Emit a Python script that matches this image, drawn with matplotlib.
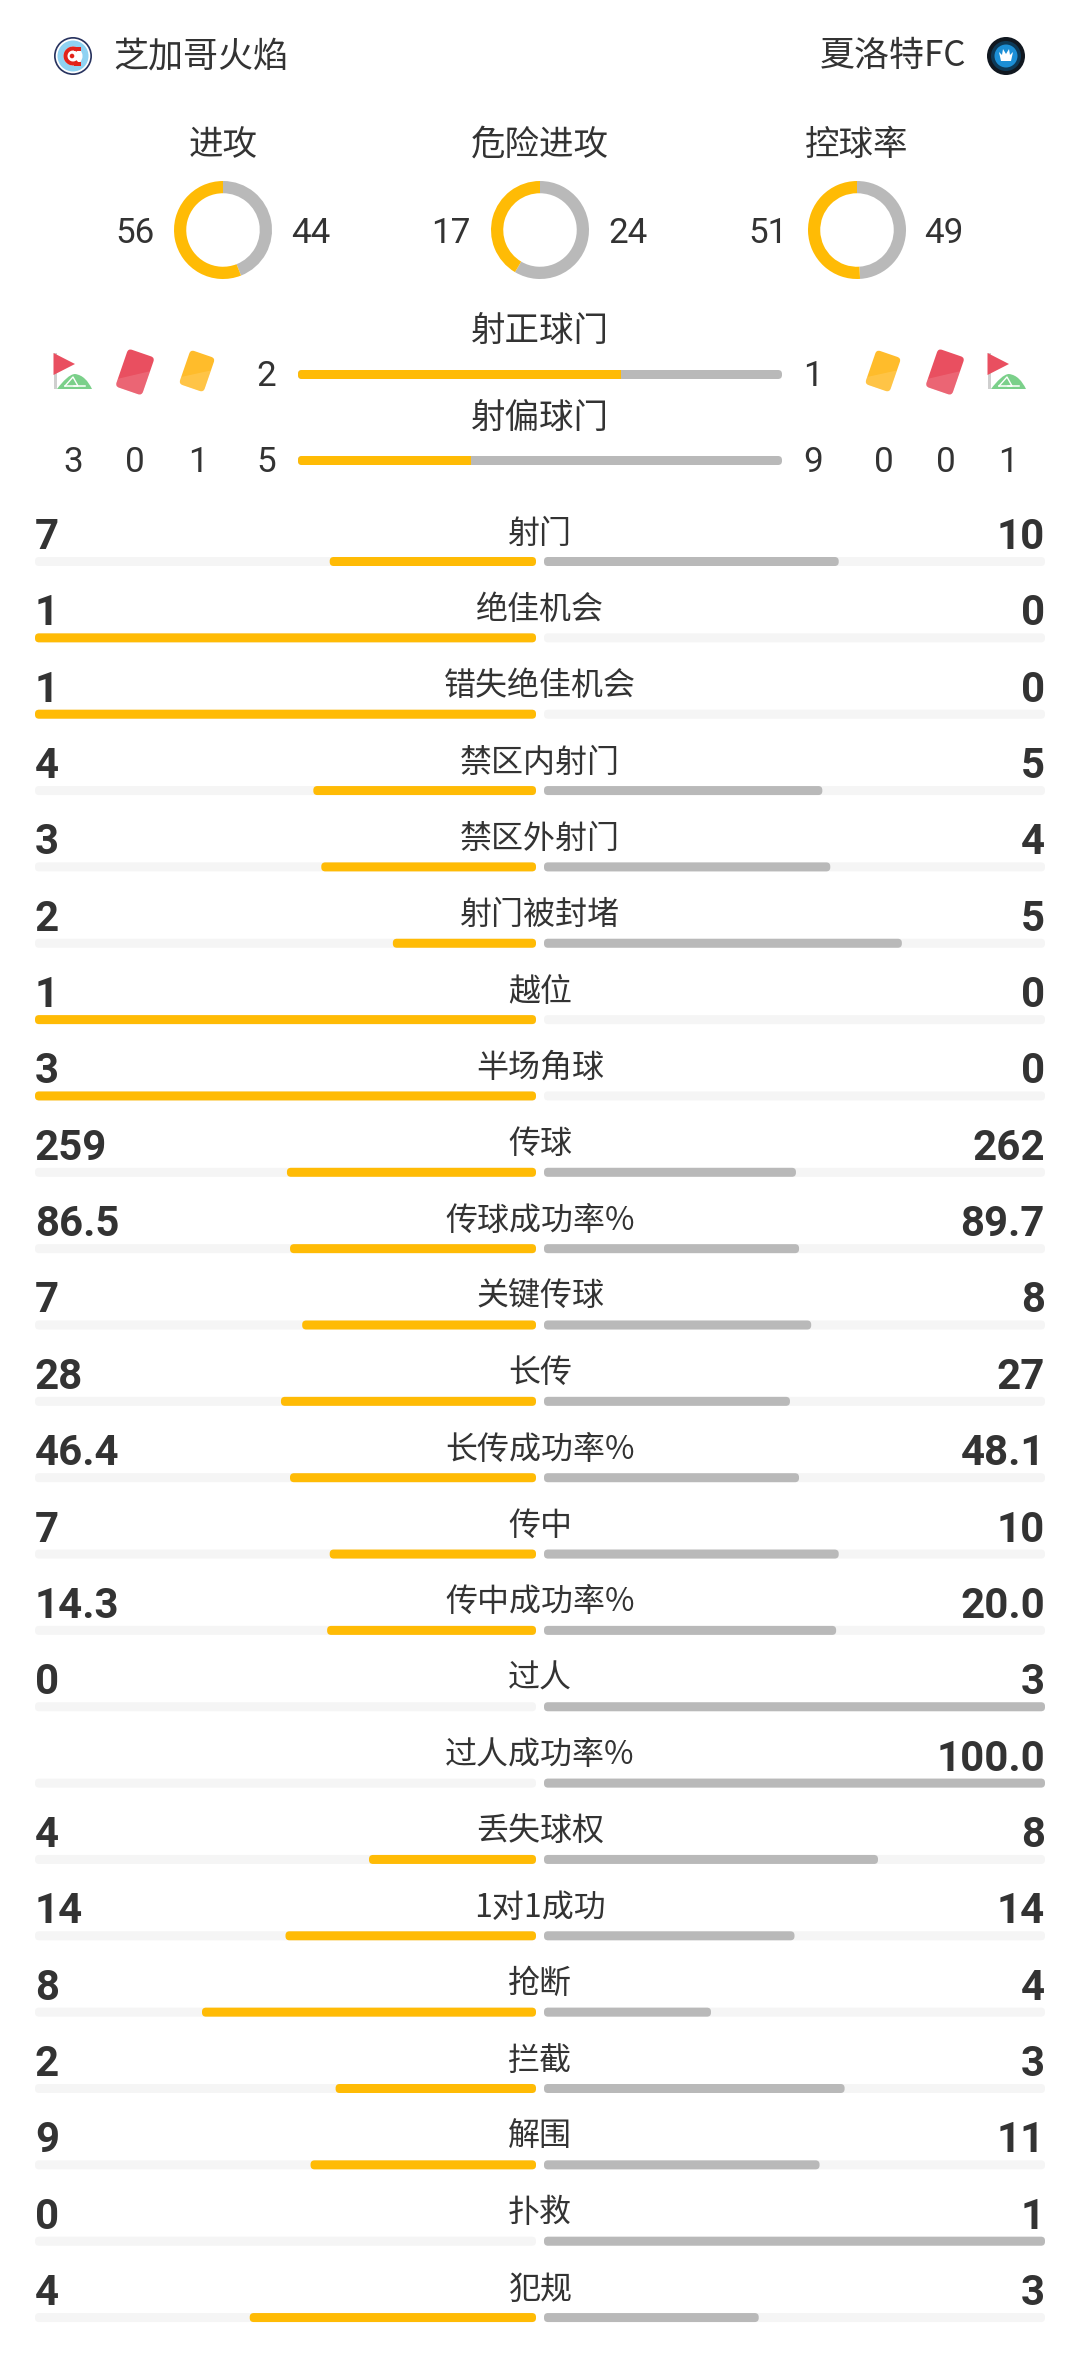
import matplotlib
matplotlib.use('Agg')
import matplotlib.pyplot as plt
from matplotlib.patches import Circle, FancyBboxPatch, PathPatch, Polygon, Rectangle, Wedge
from matplotlib.path import Path
from matplotlib.transforms import Affine2D

plt.rcParams['font.family'] = ['Noto Sans CJK SC', 'DejaVu Sans']

GOLD = '#FFBB05'
GRAY = '#B9B9B9'
TRACK = '#F5F5F5'
INK = '#333333'
RED_CARD = '#E94F60'
YELLOW_CARD = '#FFBC2B'

home_team = '芝加哥火焰'
away_team = '夏洛特FC'

# donuts
donut_titles = ['进攻', '危险进攻', '控球率']
donut_home = [56, 17, 51]
donut_away = [44, 24, 49]

# the two thin bars with card and corner counts
shot_titles = ['射正球门', '射偏球门']
shot_home = [2, 5]
shot_away = [1, 9]
home_corners, home_reds, home_yellows = 3, 0, 1
away_yellows, away_reds, away_corners = 0, 0, 1

# main table, kept as strings because the decimals are shown as they are
stat_names = ['射门', '绝佳机会', '错失绝佳机会', '禁区内射门', '禁区外射门', '射门被封堵', '越位', '半场角球',
              '传球', '传球成功率%', '关键传球', '长传', '长传成功率%', '传中', '传中成功率%', '过人',
              '过人成功率%', '丢失球权', '1对1成功', '抢断', '拦截', '解围', '扑救', '犯规']
stat_home = ['7', '1', '1', '4', '3', '2', '1', '3',
             '259', '86.5', '7', '28', '46.4', '7', '14.3', '0',
             '', '4', '14', '8', '2', '9', '0', '4']
stat_away = ['10', '0', '0', '5', '4', '5', '0', '0',
             '262', '89.7', '8', '27', '48.1', '10', '20.0', '3',
             '100.0', '8', '14', '4', '3', '11', '1', '3']

W, H = 1080, 2379
fig = plt.figure(figsize=(W / 100, H / 100), dpi=100, facecolor='white')
ax = fig.add_axes([0, 0, 1, 1])
ax.set_xlim(0, W)
ax.set_ylim(H, 0)
ax.axis('off')


def px(size):
    # font size in points from a size in pixels
    return size * 72 / 100


def round_bar(x0, x1, y, h, color, r=4, zorder=2):
    patch = FancyBboxPatch((x0, y), x1 - x0, h, boxstyle='round,pad=0,rounding_size=%s' % r,
                           fc=color, ec='none', zorder=zorder)
    ax.add_patch(patch)
    return patch


def cjk(x, y, s, size, ha='center'):
    ax.text(x, y, s, fontsize=px(size), color=INK, ha=ha, va='baseline')


def number(x, y, s, ha='center'):
    ax.text(x, y, str(s), family='Roboto', fontsize=px(35), color=INK, ha=ha, va='baseline')


def card(cx, cy, w, h, color, angle=19):
    tr = Affine2D().rotate_deg(angle).translate(cx, cy) + ax.transData
    base = FancyBboxPatch((-w / 2, -h / 2), w, h, boxstyle='round,pad=0,rounding_size=4',
                          fc=color, ec='none', transform=tr, zorder=3)
    ax.add_patch(base)
    light = Polygon([(-w / 2, h * 0.3), (w / 2, -h * 0.14), (w / 2, h / 2), (-w / 2, h / 2)],
                    fc='white', alpha=0.13, ec='none', transform=tr, zorder=4)
    ax.add_patch(light)
    light.set_clip_path(base)


def corner_flag(x):
    ax.add_patch(Rectangle((x - 1.5, 353), 3, 36, fc='#CFCFCF', ec='none', zorder=3))
    ax.add_patch(Polygon([(x - 1.5, 353), (x + 20, 364), (x - 1.5, 375)], fc=RED_CARD, ec='none', zorder=4))
    verts = [(x + 2, 389), (x + 8, 381), (x + 15, 374), (x + 20, 374),
             (x + 28, 375), (x + 33, 381), (x + 37, 389), (x + 2, 389)]
    codes = [Path.MOVETO, Path.CURVE4, Path.CURVE4, Path.CURVE4,
             Path.CURVE4, Path.CURVE4, Path.CURVE4, Path.CLOSEPOLY]
    ax.add_patch(PathPatch(Path(verts, codes), fc='#7BD08A', ec='none', zorder=3))
    ax.plot([x + 10, x + 30], [386, 386], color='white', lw=1.1, zorder=4)
    ax.plot([x + 10, x + 18, x + 23, x + 19], [386, 377, 386, 386], color='white', lw=1.0, zorder=4)


# header crests
ax.add_patch(Circle((73, 56), 19, fc='#28335F', ec='none'))
ax.add_patch(Circle((73, 56), 17.3, fc='white', ec='none'))
ax.add_patch(Circle((73, 56), 15.5, fc='#8FD2F2', ec='none'))
ax.add_patch(Circle((73, 56), 9.5, fc='white', ec='none'))
ax.add_patch(Wedge((73, 56), 9.5, 50, 310, width=4, fc='#E2231A', ec='none'))
ax.add_patch(Rectangle((74, 46.5), 7, 4, fc='#E2231A', ec='none'))
ax.add_patch(Rectangle((74, 61.5), 7, 4, fc='#E2231A', ec='none'))
ax.add_patch(Circle((72, 56), 2.3, fc='#E2231A', ec='none'))

ax.add_patch(Circle((1006, 56), 19, fc='#111820', ec='none'))
ax.add_patch(Circle((1006, 56), 15, fc='#0E3A57', ec='none'))
ax.add_patch(Circle((1006, 56), 11.5, fc='#1C8FD6', ec='none'))
ax.add_patch(Polygon([(999, 52), (1002, 55), (1003, 49), (1006, 54), (1009, 49), (1010, 55), (1013, 52),
                      (1011, 61), (1001, 61)], fc='white', ec='none', zorder=3))
cjk(113, 66, home_team, 35, ha='left')
cjk(966, 66, away_team, 35, ha='right')

# donuts
donut_x = [223, 540, 857]
home_num_x = [135, 451, 768]
away_num_x = [311, 628, 944]
for i, title in enumerate(donut_titles):
    cjk(donut_x[i], 155, title, 34.5)
    number(home_num_x[i], 243, donut_home[i])
    number(away_num_x[i], 243, donut_away[i])
    r = 49
    pad = 1.1
    side = 2 * r * pad
    pie_ax = fig.add_axes([(donut_x[i] - side / 2) / W, 1 - (230 + side / 2) / H, side / W, side / H])
    pie_ax.pie([donut_away[i], donut_home[i]], colors=[GRAY, GOLD], startangle=90, counterclock=False,
               wedgeprops={'width': 0.25, 'linewidth': 0})
    pie_ax.set_xlim(-pad, pad)
    pie_ax.set_ylim(-pad, pad)

# thin bars
bar_y = [370, 456]
title_y = [342, 429]
for i, title in enumerate(shot_titles):
    cjk(540, title_y[i], title, 34.5)
    y = bar_y[i]
    track = round_bar(298, 782, y, 9, GRAY)
    split = 298 + 484 * shot_home[i] / (shot_home[i] + shot_away[i])
    fill = Rectangle((298, y), split - 298, 9, fc=GOLD, ec='none', zorder=3)
    ax.add_patch(fill)
    fill.set_clip_path(track)
    number(266.5, y + 16, shot_home[i])
    number(813, y + 16, shot_away[i])

for x, s in zip([73, 135, 198], [home_corners, home_reds, home_yellows]):
    number(x, 472, s)
for x, s in zip([884, 946, 1007.5], [away_yellows, away_reds, away_corners]):
    number(x, 472, s)

corner_flag(55)
card(135, 372, 28, 40, RED_CARD)
card(197, 371, 26, 36, YELLOW_CARD)
card(883, 371, 26, 36, YELLOW_CARD)
card(945, 372, 28, 40, RED_CARD)
corner_flag(989)

# main table
L0, L1, R0, R1 = 35, 536, 544, 1045
row_top = 557
row_step = 76.35
for i, name in enumerate(stat_names):
    y = row_top + i * row_step
    a = float(stat_home[i] or 0)
    b = float(stat_away[i] or 0)
    total = a + b
    round_bar(L0, L1, y, 9, TRACK, zorder=1)
    round_bar(R0, R1, y, 9, TRACK, zorder=1)
    if a > 0:
        round_bar(L1 - (L1 - L0) * a / total, L1, y, 9, GOLD)
    if b > 0:
        round_bar(R0, R0 + (R1 - R0) * b / total, y, 9, GRAY)
    cjk(540, y - 14.5, name, 32)
    ax.text(L0, y - 8, stat_home[i], family='Roboto', weight='bold', fontsize=px(42), color=INK,
            ha='left', va='baseline')
    ax.text(R1, y - 8, stat_away[i], family='Roboto', weight='bold', fontsize=px(42), color=INK,
            ha='right', va='baseline')

fig.savefig('out.png', dpi=100, facecolor='white')
